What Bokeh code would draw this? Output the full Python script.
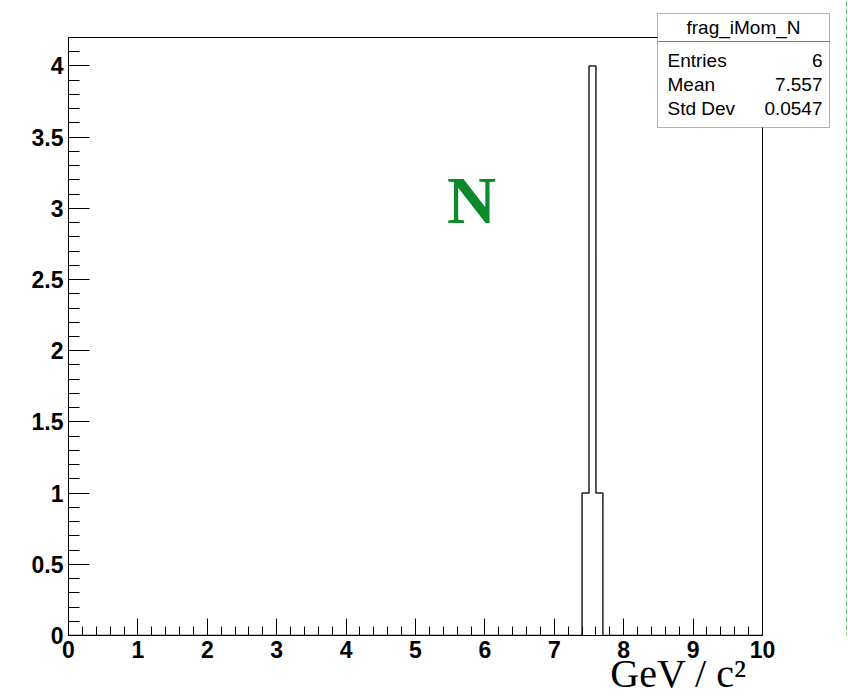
from bokeh.plotting import figure
from bokeh.models import FixedTicker, Label, BoxAnnotation, Range1d
from bokeh.embed import file_html
from bokeh.resources import INLINE

# ---- data ----
bin_lo = [7.4, 7.5, 7.6]
bin_hi = [7.5, 7.6, 7.7]
counts = [1, 4, 1]
x_min, x_max = 0.0, 10.0
y_max = 4.2
x_major = [0, 1, 2, 3, 4, 5, 6, 7, 8, 9, 10]
x_labels = ["0", "1", "2", "3", "4", "5", "6", "7", "8", "9", "10"]
y_major = [0, 0.5, 1, 1.5, 2, 2.5, 3, 3.5, 4]
y_labels = ["0", "0.5", "1", "1.5", "2", "2.5", "3", "3.5", "4"]
stats_title = "frag_iMom_N"
stats_names = ["Entries", "Mean", "Std Dev"]
stats_values = ["6", "7.557", "0.0547"]
tag_text = "N"
x_title = "GeV / c\u00b2"

# ---- layout (canvas px) ----
W, H = 848, 699
L, R, T, B = 68, 762, 37, 635   # ROOT frame edges on the canvas

x_end = x_min + (x_max - x_min) * (W - L) / (R - L)
y_end = y_max * B / (B - T)

p = figure(width=W, height=H, output_backend="svg", toolbar_location=None,
           x_range=Range1d(x_min, x_end), y_range=Range1d(0, y_end),
           min_border_left=L, min_border_right=0,
           min_border_top=0, min_border_bottom=H - B)
p.xgrid.visible = False
p.ygrid.visible = False
p.outline_line_color = None
p.background_fill_color = "white"
p.border_fill_color = "white"

x_minor = [round(i * 0.2, 2) for i in range(0, 51)]
y_minor = [round(i * 0.1, 2) for i in range(0, 43)]
p.xaxis.ticker = FixedTicker(ticks=x_major, minor_ticks=x_minor)
p.yaxis.ticker = FixedTicker(ticks=y_major, minor_ticks=y_minor)
p.xaxis.major_label_overrides = {v: s for v, s in zip(x_major, x_labels)}
p.yaxis.major_label_overrides = {v: s for v, s in zip(y_major, y_labels)}
p.xaxis.bounds = (x_min, x_max)
p.yaxis.bounds = (0, y_max)

for ax, mj, mn in ((p.xaxis, 17, 9), (p.yaxis, 21, 11)):
    ax.major_tick_in = mj
    ax.major_tick_out = 0
    ax.minor_tick_in = mn
    ax.minor_tick_out = 0
    ax.axis_line_color = "black"
    ax.major_tick_line_color = "black"
    ax.minor_tick_line_color = "black"
    ax.major_label_text_font = "Liberation Sans"
    ax.major_label_text_font_style = "bold"
    ax.major_label_text_font_size = "23px"
    ax.major_label_text_color = "black"
    ax.major_label_standoff = 5

# x-axis title: the label is centred on the plot frame, so leading
# no-break spaces shift the visible text under the end of the axis (ROOT style)
p.xaxis.axis_label = "\u00a0" * 44 + x_title
p.xaxis.axis_label_text_font = "Liberation Serif"
p.xaxis.axis_label_text_font_style = "normal"
p.xaxis.axis_label_text_font_size = "40px"
p.xaxis.axis_label_text_color = "black"
p.xaxis.axis_label_standoff = -10

# ROOT frame (top and right edges)
p.line([x_min, x_max, x_max], [y_max, y_max, 0], line_color="black", line_width=1)

# ---- histogram outline ----
xs, ys = [x_min], [0]
prev = 0
for lo, hi, c in zip(bin_lo, bin_hi, counts):
    xs += [lo, lo]
    ys += [prev, c]
    prev = c
xs += [bin_hi[-1], bin_hi[-1], x_max]
ys += [prev, 0, 0]
p.line(xs, ys, line_color="#222222", line_width=1.5)

# ---- stats box ----
def fx(x):
    return x - L

def fy(y):
    return B - y

def sbox(l, r, t, b, **kw):
    return BoxAnnotation(left=fx(l), right=fx(r), top=fy(t), bottom=fy(b),
                         left_units="screen", right_units="screen",
                         top_units="screen", bottom_units="screen", **kw)

p.add_layout(sbox(657, 829, 13, 127, fill_color="white", fill_alpha=1.0,
                  line_color="black", line_width=1))
p.add_layout(sbox(657, 829, 41, 41, fill_alpha=0, line_color="black", line_width=1))

font_stats = "Liberation Sans"
p.add_layout(Label(x=fx(743), y=fy(27), x_units="screen", y_units="screen",
                   text=stats_title, text_align="center", text_baseline="middle",
                   text_font=font_stats, text_font_size="19px", text_color="black"))
row_y = [60, 84, 108]
for name, val, yy in zip(stats_names, stats_values, row_y):
    p.add_layout(Label(x=fx(667), y=fy(yy), x_units="screen", y_units="screen",
                       text=name, text_align="left", text_baseline="middle",
                       text_font=font_stats, text_font_size="19px", text_color="black"))
    p.add_layout(Label(x=fx(822), y=fy(yy), x_units="screen", y_units="screen",
                       text=val, text_align="right", text_baseline="middle",
                       text_font=font_stats, text_font_size="19px", text_color="black"))

# ---- tag ----
p.add_layout(Label(x=fx(471), y=fy(199), x_units="screen", y_units="screen",
                   text=tag_text, text_align="center", text_baseline="middle",
                   text_font="Liberation Serif", text_font_style="bold",
                   text_font_size="68px", text_color="#0b8a2c"))

# faint green edge line seen at the right border of the picture
p.add_layout(sbox(846, 846, 0, B, fill_alpha=0, line_color="#3aa64a",
                  line_alpha=0.6, line_width=1, line_dash="4 4"))

open("out.html", "w").write(file_html(p, INLINE))
